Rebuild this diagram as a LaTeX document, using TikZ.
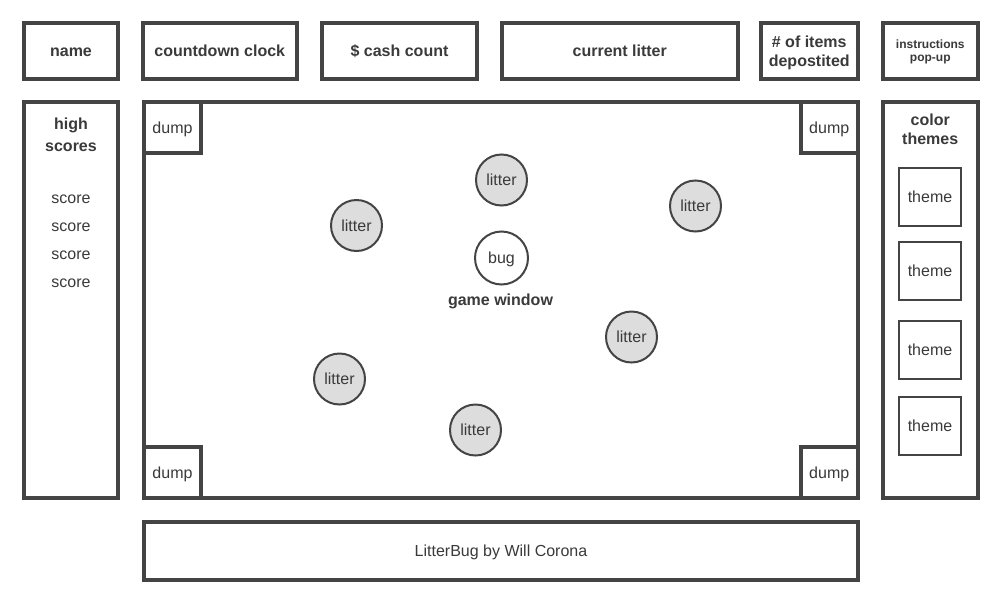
\documentclass[tikz,border=0pt]{standalone}
\usepackage{fontspec}
\setmainfont{Liberation Sans}
\definecolor{edge}{HTML}{444444}
\definecolor{ink}{HTML}{3A3A3A}
\definecolor{litfill}{HTML}{DDDDDD}
\begin{document}
\begin{tikzpicture}[x=1pt,y=-1pt,
  every node/.style={text=ink, font=\fontsize{16}{19}\selectfont, align=center, inner sep=0pt, outer sep=0pt},
  oneline/.style={text height=11.5pt, text depth=0pt},
  panel/.style={draw=edge, line width=4pt, rectangle, fill=white},
  boldlbl/.style={font=\fontsize{16}{19}\selectfont\bfseries},
  dumpbox/.style={draw=edge, line width=4pt, rectangle, fill=white, minimum width=57pt, minimum height=51pt, oneline},
  themebox/.style={draw=edge, line width=2pt, rectangle, minimum width=62pt, minimum height=58pt, oneline},
  litterc/.style={draw=edge, line width=2pt, circle, fill=litfill, minimum size=51pt, oneline},
  bugc/.style={draw=edge, line width=2pt, circle, fill=white, minimum size=53pt, oneline}]
\useasboundingbox (0,0) rectangle (999,600);
\fill[white] (0,0) rectangle (999,600);
% top row
\node[panel, boldlbl, oneline, minimum width=94pt, minimum height=55.5pt] (name) at (71,50.75) {name};
\node[panel, boldlbl, oneline, minimum width=153.5pt, minimum height=55.5pt] (clock) at (219.75,50.75) {countdown clock};
\node[panel, boldlbl, oneline, minimum width=155pt, minimum height=55.5pt] (cash) at (399.5,50.75) {\$ cash count};
\node[panel, boldlbl, oneline, minimum width=235.5pt, minimum height=55.5pt] (cur) at (619.75,50.75) {current litter};
\node[panel, boldlbl, text depth=0pt, minimum width=96.5pt, minimum height=55.5pt] (items) at (809.25,50.75) {\# of items\\depostited};
\node[panel, font=\fontsize{12}{13.5}\selectfont\bfseries, text depth=0pt, minimum width=94.5pt, minimum height=55.5pt] (instr) at (930.25,50.75) {instructions\\pop-up};
% side panels
\node[panel, minimum width=94pt, minimum height=396pt] (hs) at (71,300) {};
\node[boldlbl, font=\fontsize{16}{22}\selectfont\bfseries] (hstitle) at (71,135) {high\\scores};
\node[oneline] (s1) at (71,198) {score};
\node[oneline] (s2) at (71,226) {score};
\node[oneline] (s3) at (71,254) {score};
\node[oneline] (s4) at (71,282) {score};
\node[panel, minimum width=94.5pt, minimum height=396pt] (ct) at (930.25,300) {};
\node[boldlbl] (cttitle) at (930.25,129) {color\\themes};
\node[themebox] (t1) at (930,197) {theme};
\node[themebox] (t2) at (930,271) {theme};
\node[themebox] (t3) at (930,350) {theme};
\node[themebox] (t4) at (930,426) {theme};
% game window
\node[panel, minimum width=713.5pt, minimum height=396pt] (gw) at (500.75,300) {};
\node[dumpbox] (d1) at (172.5,127.25) {dump};
\node[dumpbox] (d2) at (829.25,127.25) {dump};
\node[dumpbox] (d3) at (172.5,472.5) {dump};
\node[dumpbox] (d4) at (829.25,472.5) {dump};
\node[litterc] (l1) at (501.5,180) {litter};
\node[litterc] (l2) at (356.5,225.5) {litter};
\node[litterc] (l3) at (695.5,206) {litter};
\node[litterc] (l4) at (631.5,337) {litter};
\node[litterc] (l5) at (339.5,379) {litter};
\node[litterc] (l6) at (475.5,430) {litter};
\node[bugc] (bug) at (501.5,258) {bug};
\node[boldlbl, oneline] (gwl) at (500.5,300) {game window};
% bottom bar
\node[panel, oneline, minimum width=714pt, minimum height=58pt] (credit) at (501,551) {LitterBug by Will Corona};
\end{tikzpicture}
\end{document}
